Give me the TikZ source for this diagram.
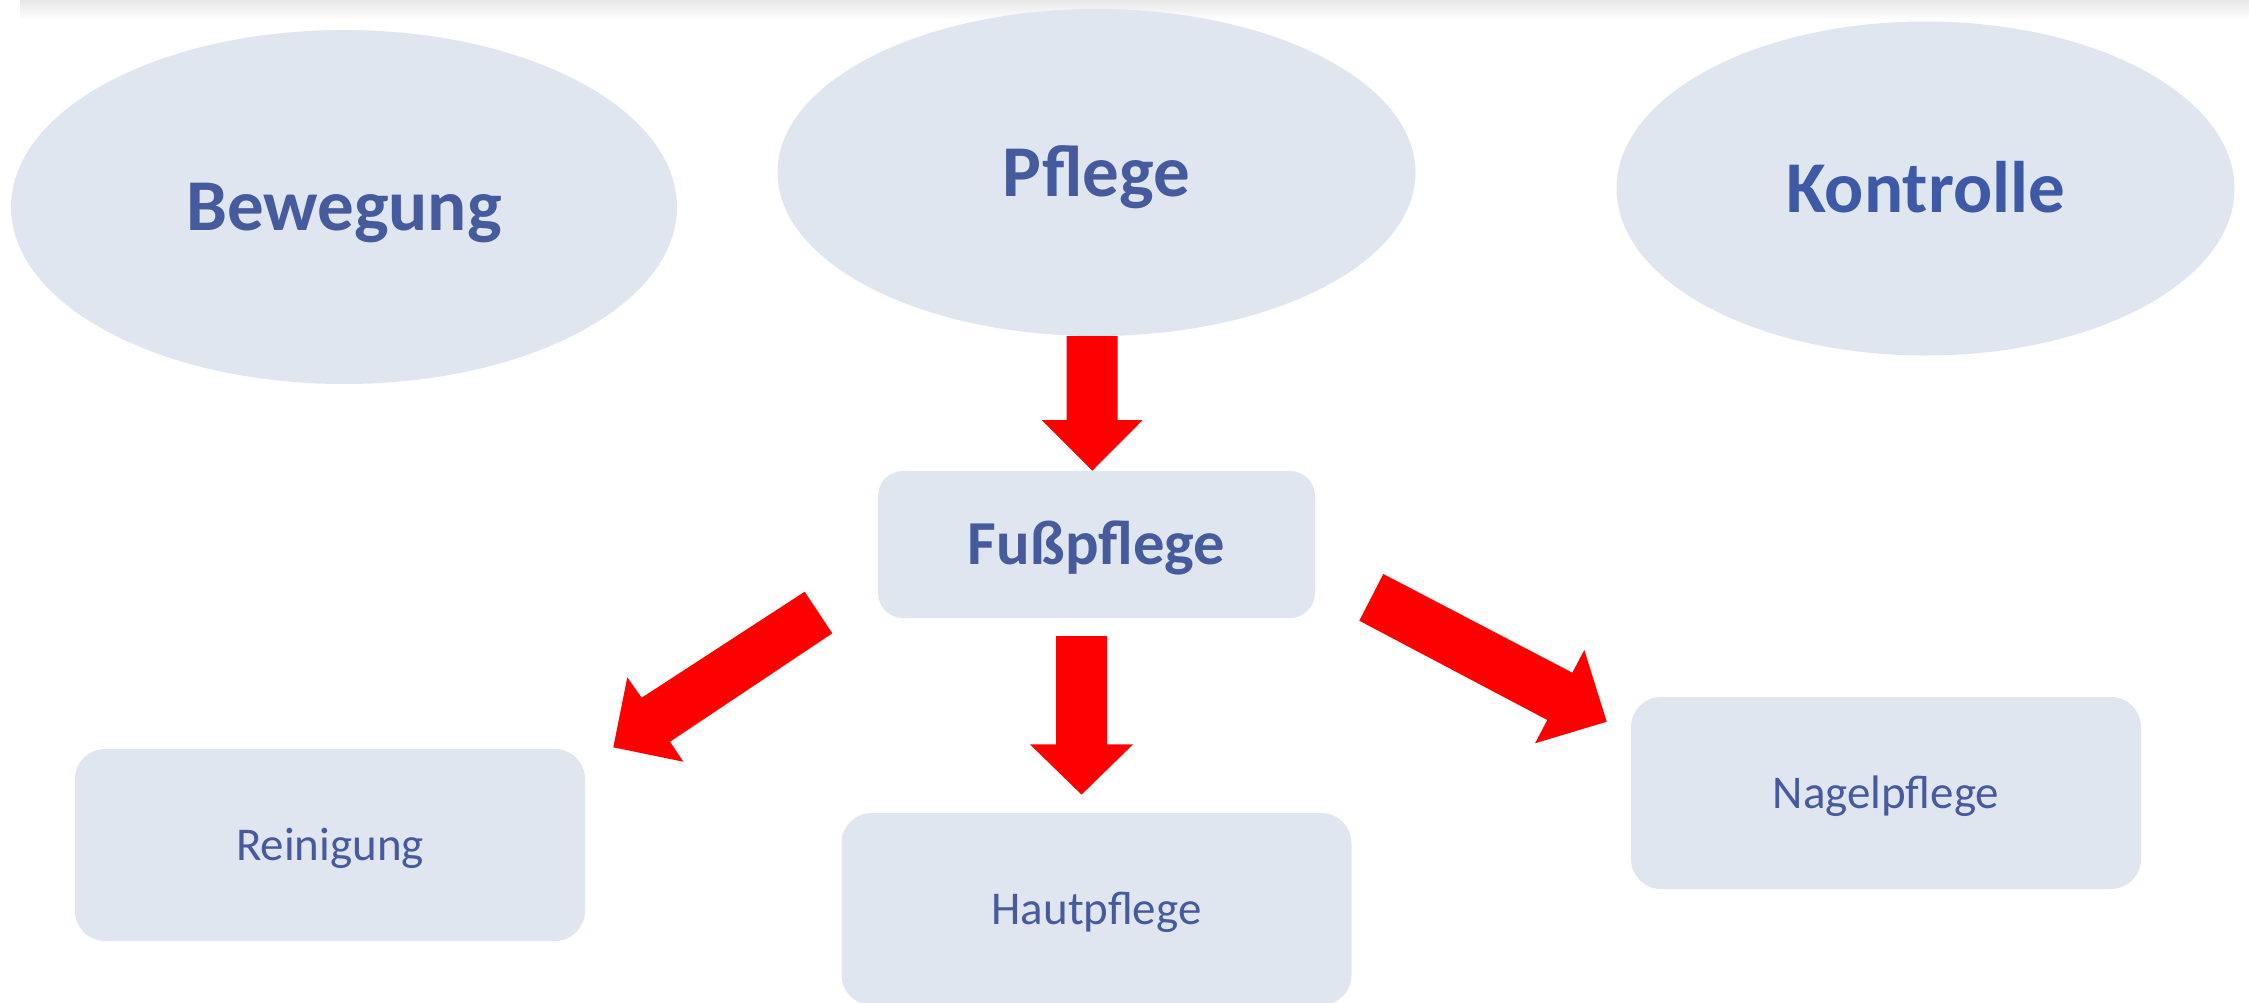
\documentclass[tikz,border=0pt]{standalone}
\usepackage{fontspec}
\setmainfont{Carlito}
\usetikzlibrary{shapes.geometric}
\definecolor{boxfill}{RGB}{224,230,240}
\definecolor{txtblue}{RGB}{70,90,158}
\definecolor{txtblueb}{RGB}{62,90,166}
\definecolor{arrred}{RGB}{255,0,0}
\tikzset{
  ell/.style={ellipse, fill=boxfill, inner sep=0pt, text=txtblue, text height=23.5pt, text depth=0pt, font=\fontsize{36.5}{40}\selectfont\bfseries},
  mainbox/.style={rectangle, rounded corners=12.5pt, fill=boxfill, minimum width=218.5pt, minimum height=73.5pt, inner sep=0pt, text=txtblue, text height=20.2pt, text depth=0pt, font=\fontsize{31.3}{35}\selectfont\bfseries},
  subbox/.style={rectangle, rounded corners=15pt, fill=boxfill, minimum width=255pt, minimum height=96pt, inner sep=0pt, text=txtblue, text height=15.1pt, text depth=0pt, font=\fontsize{23.5}{27}\selectfont},
  blockarrow/.style={fill=arrred, draw=none}
}
\begin{document}
\begin{tikzpicture}[x=0.5pt, y=-0.5pt]
\clip (0,0) rectangle (2249,1002);
\useasboundingbox (0,0) rectangle (2249,1002);
\fill[white] (0,0) rectangle (2249,1002);
% top shadow
\shade[top color=black!9, bottom color=white] (20,0) rectangle (2249,20);
% ellipses
\node[ell, minimum width=333pt, minimum height=177pt] (bew) at (344,207) {Bewegung};
\node[ell, minimum width=319pt, minimum height=163.5pt] (pfl) at (1096.5,172.5) {Pflege};
\node[ell, minimum width=309pt, minimum height=167pt, text=txtblueb] (kon) at (1925.5,188.5) {Kontrolle};
% boxes
\node[mainbox] (fuss) at (1096.5,544.5) {Fußpflege};
\node[subbox] (rein) at (330,845) {Reinigung};
\node[subbox] (haut) at (1096.5,909) {Hautpflege};
\node[subbox] (nagel) at (1886,793) {Nagelpflege};
% block arrows
\fill[blockarrow] (1066.7,336) -- (1117.7,336) -- (1117.7,420) -- (1142.7,420)
  -- (1092.3,470.7) -- (1041.7,420) -- (1066.7,420) -- cycle;
\fill[blockarrow] (1056,636) -- (1107,636) -- (1107,744.4) -- (1133,744.4)
  -- (1081.5,794.6) -- (1030,744.4) -- (1056,744.4) -- cycle;
\fill[blockarrow] (804.7,591.7) -- (832.3,633.3) -- (670,741.7) -- (683.3,761.7)
  -- (613.3,747.3) -- (627.3,677.3) -- (641.7,697.7) -- cycle;
\fill[blockarrow] (1383.3,574) -- (1572.3,672.7) -- (1584.3,650) -- (1606.7,721.7)
  -- (1535,743.3) -- (1547.3,720) -- (1359.3,620.7) -- cycle;
\end{tikzpicture}
\end{document}
